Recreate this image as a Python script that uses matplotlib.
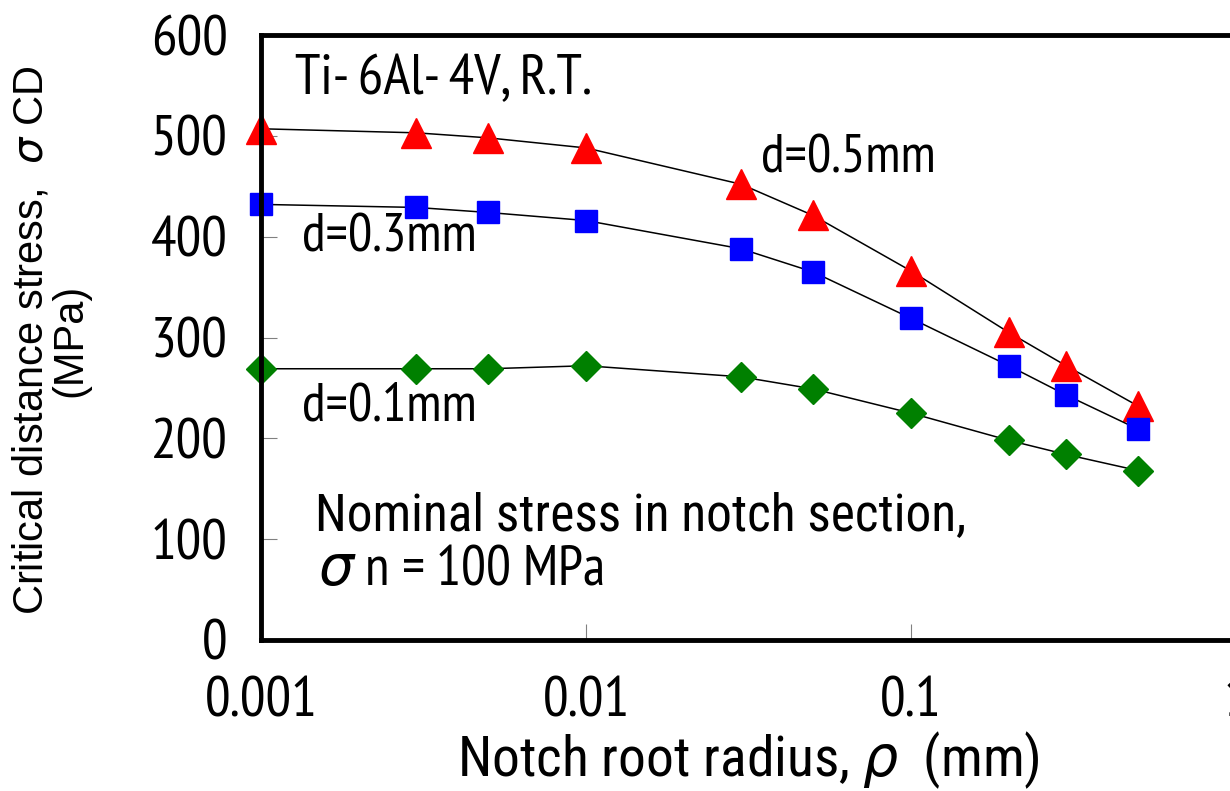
import matplotlib
matplotlib.use("Agg")
import matplotlib.pyplot as plt

plt.rcParams['font.family'] = ['PT Sans Narrow', 'Roboto Condensed', 'Archivo Narrow',
                               'Liberation Sans', 'DejaVu Sans']
WIDE = ['Roboto Condensed', 'PT Sans Narrow', 'DejaVu Sans']
YLAB = ['Liberation Sans', 'DejaVu Sans']

radius = [0.001, 0.003, 0.005, 0.01, 0.03, 0.05, 0.1, 0.2, 0.3, 0.5]
stress_d05 = [507, 503, 498, 488, 452, 421, 366, 305, 272, 232]
stress_d03 = [432, 429, 424, 416, 388, 365, 319, 272, 243, 209]
stress_d01 = [269, 269, 269, 272, 261, 249, 225, 198, 184, 168]

xticks = [0.001, 0.01, 0.1, 1]
xticklabels = ['0.001', '0.01', '0.1', '1']
yticks = [0, 100, 200, 300, 400, 500, 600]

fig = plt.figure(figsize=(12.3, 7.91), dpi=100)
ax = fig.add_axes([261/1230, 1-640/791, (1236-261)/1230, (640-35)/791])

ax.plot(radius, stress_d05, color='black', lw=1.1, marker='^', ms=21,
        mfc='#ff0000', mec='#ff0000', zorder=3, clip_on=False)
ax.plot(radius, stress_d03, color='black', lw=1.1, marker='s', ms=16.5,
        mfc='#0000ff', mec='#0000ff', zorder=3, clip_on=False)
ax.plot(radius, stress_d01, color='black', lw=1.1, marker='D', ms=15,
        mfc='#008000', mec='#008000', zorder=3, clip_on=False)

ax.set_xscale('log')
ax.set_xlim(0.001, 1)
ax.set_ylim(0, 600)
ax.set_xticks(xticks)
ax.set_xticklabels(xticklabels)
ax.minorticks_off()
ax.set_yticks(yticks)

for s in ['left', 'bottom', 'top']:
    ax.spines[s].set_linewidth(3.5)
    ax.spines[s].set_zorder(4)
ax.spines['right'].set_visible(False)

ax.tick_params(axis='both', direction='in', length=11.5, width=0.8,
               color='#808080', labelsize=41)
ax.tick_params(axis='y', pad=24)
ax.tick_params(axis='x', pad=26)

ax.set_xlabel(r'Notch root radius, $\rho$  (mm)', fontsize=40, labelpad=2,
              family=WIDE)
ax.set_ylabel('Critical distance stress,  $\\sigma$ CD\n(MPa)', fontsize=30,
              linespacing=0.95, family=YLAB)
ax.yaxis.set_label_coords((90-261)/975, 0.495)

ax.text(0.035, 0.926, 'Ti- 6Al- 4V, R.T.', transform=ax.transAxes,
        fontsize=41, va='center', ha='left')
ax.text(0.513, 0.795, 'd=0.5mm', transform=ax.transAxes,
        fontsize=39, va='center', ha='left')
ax.text(0.042, 0.665, 'd=0.3mm', transform=ax.transAxes,
        fontsize=39, va='center', ha='left')
ax.text(0.042, 0.385, 'd=0.1mm', transform=ax.transAxes,
        fontsize=39, va='center', ha='left')
ax.text(0.055, 0.205, 'Nominal stress in notch section,', transform=ax.transAxes,
        fontsize=37, va='center', ha='left', family=WIDE)
ax.text(0.058, 0.115, r'$\sigma$ n = 100 MPa', transform=ax.transAxes,
        fontsize=40, va='center', ha='left')

fig.savefig('out.png', dpi=100)
